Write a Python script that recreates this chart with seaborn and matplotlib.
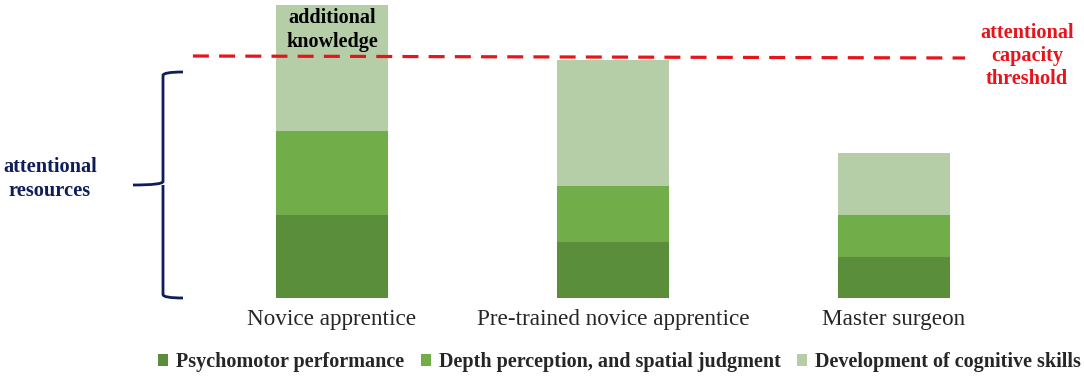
import numpy as np
import pandas as pd
import matplotlib
matplotlib.use("Agg")
import matplotlib.pyplot as plt
import seaborn as sns
from matplotlib.patches import Patch
from matplotlib.path import Path
from matplotlib.patches import PathPatch
import matplotlib.transforms as mtransforms

# Data (arbitrary units)
categories = ["Novice apprentice", "Pre-trained novice apprentice", "Master surgeon"]
psychomotor = [8.3, 5.6, 4.1]
depth = [8.4, 5.6, 4.2]
cognitive = [7.6, 12.6, 6.2]
additional = [5.0, 0.0, 0.0]
series_names = ["Psychomotor performance", "Depth perception, and spatial judgment",
                "Development of cognitive skills"]
threshold_x = [-0.495, 2.253]
threshold_y = [24.2, 24.0]
resources_top = 22.6

col_dark = "#5B8E3A"
col_mid = "#71AD48"
col_light = "#B5CEA8"
navy = "#0E1E5B"
red = "#E8141B"

sns.set_style("white")
plt.rcParams["font.family"] = ["Liberation Serif", "DejaVu Serif"]

df = pd.DataFrame({"cat": categories, "p": psychomotor, "d": depth,
                   "c": cognitive, "a": additional})
df["s1"] = df["p"]
df["s2"] = df["p"] + df["d"]
df["s3"] = df["s2"] + df["c"]
df["s4"] = df["s3"] + df["a"]

fig = plt.figure(figsize=(10.84, 3.85), dpi=100)
ax = fig.add_axes([191.5 / 1084, 1 - 298 / 385, 843 / 1084, 298 / 385])

# stacked bars: draw cumulative totals from the top down
for col, color in [("s4", col_light), ("s3", col_light), ("s2", col_mid), ("s1", col_dark)]:
    sns.barplot(data=df, x="cat", y=col, color=color, width=0.4,
                saturation=1, linewidth=0, ax=ax)

ax.set_xlim(-0.5, 2.5)
ax.set_ylim(0, 29.8)
ax.set_xlabel("")
ax.set_ylabel("")
ax.set_yticks([])
ax.tick_params(axis="x", length=0, pad=8, labelsize=16.7)
sns.despine(ax=ax, left=True, bottom=True)

# threshold line
ax.plot(threshold_x, threshold_y, color=red, lw=2.3, dashes=(5, 3.2), clip_on=False)
fig.text(1027 / 1084, 1 - 56 / 385, "attentional\ncapacity\nthreshold", color=red,
         fontsize=14.6, fontweight="bold", ha="center", va="center", linespacing=1.2)

# additional knowledge label
ax.text(0, df["s3"][0] + df["a"][0] / 2, "additional\nknowledge", ha="center",
        va="center", fontsize=14.5, fontweight="bold", color="black", linespacing=1.25)

# curly brace for attentional resources
trans = mtransforms.blended_transform_factory(fig.transFigure, ax.transData)
xb = 163 / 1084
xh = 183 / 1084
xt = 133 / 1084
ym = resources_top / 2
r = 0.35
verts = [
    (xh, resources_top), (xb, resources_top), (xb, resources_top - r),
    (xb, ym + r), (xb, ym), (xt, ym),
    (xb, ym), (xb, ym - r),
    (xb, r), (xb, 0), (xh, 0),
]
codes = [Path.MOVETO, Path.CURVE3, Path.CURVE3,
         Path.LINETO, Path.CURVE3, Path.CURVE3,
         Path.MOVETO, Path.LINETO,
         Path.LINETO, Path.CURVE3, Path.CURVE3]
ax.add_patch(PathPatch(Path(verts, codes), transform=trans, fill=False,
                       edgecolor=navy, lw=2.0, clip_on=False))
fig.text(50 / 1084, 1 - 179 / 385, "attentional\nresources", color=navy, fontsize=14.7,
         fontweight="bold", ha="center", va="center", linespacing=1.25)

# legend
handles = [Patch(facecolor=c, edgecolor="none") for c in [col_dark, col_mid, col_light]]
fig.legend(handles, series_names, loc="center", bbox_to_anchor=(619.5 / 1084, 1 - 362 / 385),
           ncol=3, frameon=False, handlelength=0.5, handleheight=0.55,
           handletextpad=0.4, columnspacing=0.8,
           prop={"family": "Liberation Serif", "weight": "bold", "size": 14.5})

fig.savefig("out.png", dpi=100)
